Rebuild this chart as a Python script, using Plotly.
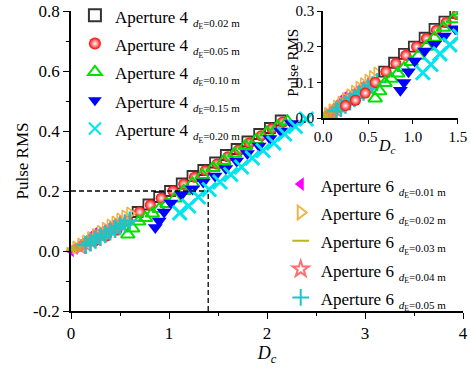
import plotly.graph_objects as go

# ---------------- data ----------------
# Aperture 4 series
a4_002_x = [0.68, 0.79, 0.90, 1.01, 1.13, 1.24, 1.35, 1.47, 1.58, 1.69, 1.80, 1.92, 2.03, 2.14]
a4_002_y = [0.130, 0.155, 0.180, 0.200, 0.225, 0.250, 0.270, 0.295, 0.320, 0.340, 0.365, 0.390, 0.410, 0.435]

a4_005_x = [0.25, 0.36, 0.47, 0.58, 0.70, 0.81, 0.92, 1.04, 1.15, 1.26, 1.37, 1.49, 1.60, 1.71, 1.82, 1.94, 2.05, 2.16]
a4_005_y = [0.035, 0.050, 0.070, 0.100, 0.130, 0.153, 0.176, 0.200, 0.223, 0.246, 0.268, 0.290, 0.314, 0.337, 0.360, 0.384, 0.408, 0.430]

a4_010_x = [0.58, 0.63, 0.69, 0.76, 0.83, 0.90, 0.98, 1.06, 1.15, 1.24, 1.34, 1.45, 1.56, 1.67, 1.78, 1.89, 2.00, 2.11, 2.21]
a4_010_y = [0.055, 0.075, 0.098, 0.110, 0.125, 0.140, 0.157, 0.175, 0.200, 0.225, 0.253, 0.277, 0.300, 0.325, 0.350, 0.370, 0.395, 0.415, 0.432]

a4_015_x = [0.86, 0.90, 0.95, 1.02, 1.13, 1.24, 1.35, 1.47, 1.58, 1.69, 1.80, 1.92, 2.03, 2.14, 2.25]
a4_015_y = [0.078, 0.100, 0.130, 0.160, 0.188, 0.207, 0.230, 0.250, 0.275, 0.300, 0.325, 0.350, 0.375, 0.400, 0.425]

a4_020_x = [1.11, 1.20, 1.30, 1.41, 1.52, 1.63, 1.74, 1.85, 1.96, 2.07, 2.18, 2.29, 2.40]
a4_020_y = [0.127, 0.150, 0.180, 0.205, 0.230, 0.255, 0.280, 0.310, 0.335, 0.360, 0.390, 0.415, 0.440]

# Aperture 6 series
a6_001_x = [0.00, 0.04, 0.08, 0.12, 0.16, 0.20, 0.24]
a6_001_y = [0.000, 0.008, 0.017, 0.027, 0.037, 0.048, 0.060]

a6_002_x = [0.05, 0.10, 0.15, 0.20, 0.25, 0.30, 0.35, 0.40, 0.45, 0.50, 0.55, 0.60]
a6_002_y = [0.012, 0.022, 0.032, 0.043, 0.053, 0.064, 0.074, 0.085, 0.095, 0.105, 0.115, 0.125]

a6_003_x = [0.04, 0.08, 0.12, 0.16, 0.20, 0.24, 0.28]
a6_003_y = [0.006, 0.013, 0.020, 0.028, 0.036, 0.044, 0.052]

a6_004_x = [0.10, 0.15, 0.20, 0.25, 0.30, 0.35, 0.40, 0.45, 0.50]
a6_004_y = [0.012, 0.022, 0.032, 0.042, 0.052, 0.062, 0.072, 0.082, 0.092]

a6_005_x = [0.15, 0.20, 0.25, 0.30, 0.35, 0.40, 0.45, 0.50, 0.55, 0.60]
a6_005_y = [0.020, 0.029, 0.038, 0.047, 0.056, 0.065, 0.074, 0.083, 0.092, 0.101]

ref_x = 1.4
ref_y = 0.2

a4_labels = ["0.02", "0.05", "0.10", "0.15", "0.20"]
a6_labels = ["0.01", "0.02", "0.03", "0.04", "0.05"]

# ---------------- styles ----------------
FONT = "Liberation Serif"

a4_series = [
    (a4_002_x, a4_002_y, dict(symbol="square-open", color="#333333", size=10, line=dict(width=1.8, color="#333333"))),
    (a4_005_x, a4_005_y, dict(symbol="circle", color="#ff0000", size=11,
                              gradient=dict(type="radial", color="#ffffff"), line=dict(width=0))),
    (a4_010_x, a4_010_y, dict(symbol="triangle-up-open", color="#00e000", size=12, line=dict(width=2, color="#00e000"))),
    (a4_015_x, a4_015_y, dict(symbol="triangle-down", color="#0000ff", size=13, line=dict(width=0))),
    (a4_020_x, a4_020_y, dict(symbol="x-thin-open", color="#00e5ee", size=14, line=dict(width=3, color="#00e5ee"))),
]
a6_series = [
    (a6_001_x, a6_001_y, dict(symbol="triangle-left", color="#ff00ff", size=11, line=dict(width=0))),
    (a6_002_x, a6_002_y, dict(symbol="triangle-right-open", color="#f0b44c", size=11, line=dict(width=1.6, color="#f0b44c"))),
    (a6_003_x, a6_003_y, dict(symbol="line-ew-open", color="#b8b818", size=12, line=dict(width=4, color="#b8b818"))),
    (a6_004_x, a6_004_y, dict(symbol="star-open", color="#ff6f6f", size=11, line=dict(width=1.4, color="#ff6f6f"))),
    (a6_005_x, a6_005_y, dict(symbol="cross-thin-open", color="#1fc4c4", size=13, line=dict(width=2.5, color="#1fc4c4"))),
]

fig = go.Figure()

def label(ap, d):
    return ("<span style='font-size:17px'>Aperture %s</span> "
            "<sub><span style='font-size:11px'><i>d</i><sub>E</sub>=%s m</span></sub>" % (ap, d))

for (xs, ys, mk), d in zip(a4_series, a4_labels):
    fig.add_trace(go.Scatter(x=xs, y=ys, mode="markers", marker=mk, name=label("4", d),
                             legend="legend", xaxis="x", yaxis="y", cliponaxis=False))
for (xs, ys, mk), d in zip(a6_series, a6_labels):
    fig.add_trace(go.Scatter(x=xs, y=ys, mode="markers", marker=mk, name=label("6", d),
                             legend="legend2", xaxis="x", yaxis="y", cliponaxis=False))

# inset copies
for xs, ys, mk in a6_series + a4_series:
    fig.add_trace(go.Scatter(x=xs, y=ys, mode="markers", marker=dict(mk), showlegend=False,
                             xaxis="x2", yaxis="y2", cliponaxis=True))

# reference dashed lines
fig.add_shape(type="line", x0=0, x1=ref_x, y0=ref_y, y1=ref_y, xref="x", yref="y",
              line=dict(color="black", width=1.3, dash="5px,3px"))
fig.add_shape(type="line", x0=ref_x, x1=ref_x, y0=-0.2, y1=ref_y, xref="x", yref="y",
              line=dict(color="black", width=1.3, dash="5px,3px"))

# inset axis titles
fig.add_annotation(text="Pulse RMS", xref="paper", yref="paper", x=0.566, y=0.827,
                   textangle=-90, showarrow=False, font=dict(size=15), xanchor="center", yanchor="middle")
fig.add_annotation(text="<i>D<sub>c</sub></i>", xref="paper", yref="paper", x=0.806, y=0.547,
                   showarrow=False, font=dict(size=16), xanchor="center", yanchor="middle")

axis_common = dict(showgrid=False, zeroline=False, showline=True, linecolor="black", linewidth=1.5,
                   ticks="outside", tickcolor="black", tickwidth=1.2, mirror=False, automargin=False)

fig.update_layout(
    width=471, height=371,
    margin=dict(l=71, r=8, t=11, b=60, autoexpand=False),
    paper_bgcolor="white", plot_bgcolor="rgba(0,0,0,0)",
    font=dict(family=FONT, color="black", size=15),
    xaxis=dict(range=[0, 4], domain=[0, 1], tickvals=[0, 1, 2, 3, 4], ticklen=6,
               minor=dict(ticks="outside", tickvals=[0.5, 1.5, 2.5, 3.5], ticklen=3, tickcolor="black"),
               tickfont=dict(size=17),
               title=dict(text="<i>D<sub>c</sub></i>", font=dict(size=18), standoff=4), **axis_common),
    yaxis=dict(range=[-0.2, 0.8], domain=[0, 1], tickvals=[-0.2, 0, 0.2, 0.4, 0.6, 0.8],
               ticktext=["-0.2", "0.0", "0.2", "0.4", "0.6", "0.8"], ticklen=6,
               minor=dict(ticks="outside", tickvals=[-0.1, 0.1, 0.3, 0.5, 0.7], ticklen=3, tickcolor="black"),
               tickfont=dict(size=17),
               title=dict(text="Pulse RMS", font=dict(size=17), standoff=0), **axis_common),
    xaxis2=dict(range=[0, 1.5], domain=[0.643, 0.987], anchor="y2", tickvals=[0, 0.5, 1.0, 1.5],
                ticktext=["0.0", "0.5", "1.0", "1.5"], ticklen=4, tickfont=dict(size=15), **axis_common),
    yaxis2=dict(range=[0, 0.3], domain=[0.643, 1.0], anchor="x2", tickvals=[0, 0.1, 0.2, 0.3],
                ticktext=["0.0", "0.1", "0.2", "0.3"], ticklen=4, tickfont=dict(size=15), **axis_common),
    legend=dict(x=0.01, y=1.05, xanchor="left", yanchor="top", bgcolor="rgba(0,0,0,0)",
                font=dict(size=19.5), itemsizing="constant", tracegroupgap=0, itemwidth=30),
    legend2=dict(x=0.535, y=0.487, xanchor="left", yanchor="top", bgcolor="rgba(0,0,0,0)",
                 font=dict(size=19.5), itemsizing="constant", tracegroupgap=0, itemwidth=30),
)

fig.write_html("out.html", config={"displayModeBar": False},
               post_script="document.body.style.margin='0';document.body.style.overflow='hidden';")
